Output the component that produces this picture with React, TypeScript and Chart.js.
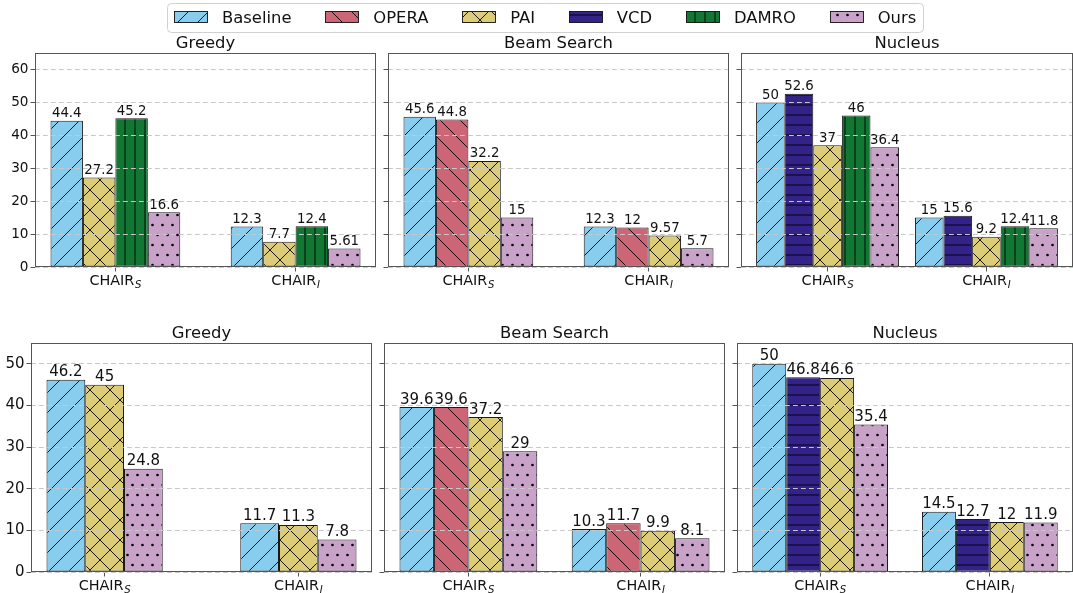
import React, { useEffect, useRef } from "react";
import { Chart, registerables } from "chart.js";

Chart.register(...registerables);

// ---------------- data ----------------
const methods = ["Baseline", "OPERA", "PAI", "VCD", "DAMRO", "Ours"];
const methodColors = ["#88CCEE", "#CC6677", "#DDCC77", "#332288", "#117733", "#C8A2C8"];
const methodHatches = ["/", "\\", "x", "-", "|", "."];

const categoryBase = ["CHAIR", "CHAIR"];
const categorySub = ["S", "I"];
const panelTitles = ["Greedy", "Beam Search", "Nucleus"];

const row1YTicks = [0, 10, 20, 30, 40, 50, 60];
const row1YMax = 65;
const row2YTicks = [0, 10, 20, 30, 40, 50];
const row2YMax = 55;

const r1GreedyMethods = ["Baseline", "PAI", "DAMRO", "Ours"];
const r1GreedyValues = [[44.4, 12.3], [27.2, 7.7], [45.2, 12.4], [16.6, 5.61]];
const r1BeamMethods = ["Baseline", "OPERA", "PAI", "Ours"];
const r1BeamValues = [[45.6, 12.3], [44.8, 12], [32.2, 9.57], [15, 5.7]];
const r1NucleusMethods = ["Baseline", "VCD", "PAI", "DAMRO", "Ours"];
const r1NucleusValues = [[50, 15], [52.6, 15.6], [37, 9.2], [46, 12.4], [36.4, 11.8]];

const r2GreedyMethods = ["Baseline", "PAI", "Ours"];
const r2GreedyValues = [[46.2, 11.7], [45, 11.3], [24.8, 7.8]];
const r2BeamMethods = ["Baseline", "OPERA", "PAI", "Ours"];
const r2BeamValues = [[39.6, 10.3], [39.6, 11.7], [37.2, 9.9], [29, 8.1]];
const r2NucleusMethods = ["Baseline", "VCD", "PAI", "Ours"];
const r2NucleusValues = [[50, 14.5], [46.8, 12.7], [46.6, 12], [35.4, 11.9]];

// ---------------- layout / style ----------------
const W = 1073;
const H = 593;
const FONT = '"DejaVu Sans", "Liberation Sans", sans-serif';

const rows = [
  { top: 53, bottom: 267, lefts: [35, 388, 741], width: 341, barW: 0.18, tickFont: 13.6, valueFont: 13.3, yTicks: row1YTicks, yMax: row1YMax },
  { top: 343, bottom: 572, lefts: [31, 384, 737], width: 341, barW: 0.2, tickFont: 15, valueFont: 15, yTicks: row2YTicks, yMax: row2YMax },
];

const panels = [
  { row: 0, col: 0, names: r1GreedyMethods, values: r1GreedyValues },
  { row: 0, col: 1, names: r1BeamMethods, values: r1BeamValues },
  { row: 0, col: 2, names: r1NucleusMethods, values: r1NucleusValues },
  { row: 1, col: 0, names: r2GreedyMethods, values: r2GreedyValues },
  { row: 1, col: 1, names: r2BeamMethods, values: r2BeamValues },
  { row: 1, col: 2, names: r2NucleusMethods, values: r2NucleusValues },
];

const HS = 10; // hatch unit (px)

function makePattern(color: string, hatch: string): CanvasPattern | string {
  const c = document.createElement("canvas");
  let w = HS, h = HS;
  if (hatch === "/" || hatch === "\\" || hatch === "x") { w = 2 * HS; h = 2 * HS; }
  if (hatch === ".") { w = HS; h = 2 * HS; }
  c.width = w; c.height = h;
  const g = c.getContext("2d")!;
  g.fillStyle = color;
  g.fillRect(0, 0, w, h);
  g.strokeStyle = "#000";
  g.fillStyle = "#000";
  g.lineWidth = 0.9;
  const line = (x1: number, y1: number, x2: number, y2: number) => {
    g.beginPath(); g.moveTo(x1, y1); g.lineTo(x2, y2); g.stroke();
  };
  if (hatch === "/" || hatch === "x") {
    line(0, h, w, 0);
    line(-5, 5, 5, -5);
    line(w - 5, h + 5, w + 5, h - 5);
  }
  if (hatch === "\\" || hatch === "x") {
    line(0, 0, w, h);
    line(w - 5, -5, w + 5, 5);
    line(-5, h - 5, 5, h + 5);
  }
  if (hatch === "-") line(0, HS / 2, HS, HS / 2);
  if (hatch === "|") line(HS / 2, 0, HS / 2, HS);
  if (hatch === ".") {
    g.beginPath(); g.arc(HS / 4, HS / 2, 1.35, 0, Math.PI * 2); g.fill();
    g.beginPath(); g.arc(HS / 4 + HS / 2, HS / 2 + HS, 1.35, 0, Math.PI * 2); g.fill();
  }
  const p = g.createPattern(c, "repeat");
  return p || color;
}

function drawLegend(ctx: CanvasRenderingContext2D, patterns: (CanvasPattern | string)[]) {
  ctx.save();
  const bx = 167.5, by = 3.5, bw = 756, bh = 29, r = 4;
  ctx.beginPath();
  ctx.moveTo(bx + r, by);
  ctx.lineTo(bx + bw - r, by);
  ctx.arcTo(bx + bw, by, bx + bw, by + r, r);
  ctx.lineTo(bx + bw, by + bh - r);
  ctx.arcTo(bx + bw, by + bh, bx + bw - r, by + bh, r);
  ctx.lineTo(bx + r, by + bh);
  ctx.arcTo(bx, by + bh, bx, by + bh - r, r);
  ctx.lineTo(bx, by + r);
  ctx.arcTo(bx, by, bx + r, by, r);
  ctx.closePath();
  ctx.fillStyle = "rgba(255,255,255,0.8)";
  ctx.fill();
  ctx.strokeStyle = "#d0d0d0";
  ctx.lineWidth = 1;
  ctx.stroke();

  ctx.font = `16.4px ${FONT}`;
  ctx.textAlign = "left";
  ctx.textBaseline = "alphabetic";
  let x = 174;
  methods.forEach((m, i) => {
    const sx = Math.round(x) + 0.5;
    ctx.fillStyle = patterns[i] as any;
    ctx.fillRect(sx, 11.5, 33, 11);
    ctx.strokeStyle = "#111";
    ctx.lineWidth = 0.9;
    ctx.strokeRect(sx, 11.5, 33, 11);
    ctx.fillStyle = "#111";
    ctx.fillText(m, x + 33 + 15, 23.3);
    x += 33 + 15 + ctx.measureText(m).width + 33.8;
  });
  ctx.restore();
}

function Panel({ idx, patterns }: { idx: number; patterns: (CanvasPattern | string)[] }) {
  const ref = useRef<HTMLCanvasElement>(null);
  useEffect(() => {
    const p = panels[idx];
    const rg = rows[p.row];
    const left = rg.lefts[p.col];
    const right = left + rg.width;
    const yAxisW = Math.min(left, 40);
    const n = p.names.length;
    const half = (n * rg.barW) / 2;
    const span = 1 + 2 * half;
    const xmin = -half - 0.05 * span;
    const xmax = 1 + half + 0.05 * span;

    const datasets = p.names.map((name, k) => {
      const mi = methods.indexOf(name);
      return {
        label: name,
        data: p.values[k].map((v, i) => ({ x: i, y: v })),
        backgroundColor: patterns[mi],
        borderColor: "#1a1a1a",
        borderWidth: 1,
        borderSkipped: false,
        categoryPercentage: n * rg.barW,
        barPercentage: 1,
      };
    });

    const deco = {
      id: "deco",
      afterDraw(chart: any) {
        const ctx: CanvasRenderingContext2D = chart.ctx;
        const a = chart.chartArea;
        ctx.save();
        // value labels
        ctx.font = `${rg.valueFont}px ${FONT}`;
        ctx.fillStyle = "#111";
        ctx.textAlign = "center";
        ctx.textBaseline = "alphabetic";
        chart.data.datasets.forEach((ds: any, di: number) => {
          const meta = chart.getDatasetMeta(di);
          meta.data.forEach((el: any, i: number) => {
            ctx.fillText(String(ds.data[i].y), el.x, el.y - 3.5);
          });
        });
        // spines
        ctx.strokeStyle = "#555";
        ctx.lineWidth = 1;
        ctx.strokeRect(a.left + 0.5, a.top + 0.5, a.right - a.left - 1, a.bottom - a.top - 1);
        // title
        ctx.font = `16.4px ${FONT}`;
        ctx.fillStyle = "#111";
        ctx.textAlign = "center";
        ctx.fillText(panelTitles[p.col], (a.left + a.right) / 2, a.top - 5.5);
        // x labels with subscripts
        const xs = chart.scales.x;
        categoryBase.forEach((base, i) => {
          const cx = xs.getPixelForValue(i);
          ctx.font = `14.4px ${FONT}`;
          const wb = ctx.measureText(base).width;
          ctx.font = `italic 10.1px ${FONT}`;
          const ws = ctx.measureText(categorySub[i]).width;
          const total = wb + 0.6 + ws;
          const sx = cx - total / 2;
          const by = a.bottom + 18.3;
          ctx.textAlign = "left";
          ctx.font = `14.4px ${FONT}`;
          ctx.fillText(base, sx, by);
          ctx.font = `italic 10.1px ${FONT}`;
          ctx.fillText(categorySub[i], sx + wb + 0.6, by + 2.5);
        });
        if (idx === 0) drawLegend(ctx, patterns);
        ctx.restore();
      },
    };

    const chart = new Chart(ref.current!, {
      type: "bar",
      data: { datasets: datasets as any },
      options: {
        animation: false,
        responsive: false,
        events: [],
        layout: { padding: { left: left - yAxisW, top: rg.top, right: W - right, bottom: H - rg.bottom } },
        plugins: { legend: { display: false }, tooltip: { enabled: false }, title: { display: false } },
        scales: {
          x: {
            type: "linear",
            min: xmin,
            max: xmax,
            offset: false,
            afterFit: (s: any) => { s.height = 0; },
            afterBuildTicks: (s: any) => { s.ticks = categoryBase.map((_, i) => ({ value: i })); },
            ticks: { display: false },
            grid: { display: true, offset: false, drawOnChartArea: false, drawTicks: true, tickLength: 4.5, tickColor: "#555", tickWidth: 1 },
            border: { display: false },
          },
          y: {
            type: "linear",
            min: 0,
            max: rg.yMax,
            afterFit: (s: any) => { s.width = yAxisW; },
            afterBuildTicks: (s: any) => { s.ticks = rg.yTicks.map((v) => ({ value: v })); },
            ticks: { display: p.col === 0, font: { family: FONT, size: rg.tickFont }, color: "#111", padding: 2 },
            grid: { display: true, z: 1, color: "#c8c8c8", lineWidth: 1, drawOnChartArea: true, drawTicks: true, tickLength: 4.5, tickColor: "#555", tickWidth: 1 },
            border: { display: false, dash: [4.8, 3.2] },
          },
        },
      } as any,
      plugins: [deco],
    });
    return () => chart.destroy();
  }, [idx, patterns]);
  return (
    <canvas
      ref={ref}
      width={W}
      height={H}
      style={{ position: "absolute", left: 0, top: 0, width: W, height: H, display: "block" }}
    />
  );
}

export default function App() {
  const patternsRef = useRef<(CanvasPattern | string)[] | null>(null);
  if (!patternsRef.current && typeof document !== "undefined") {
    patternsRef.current = methods.map((_, i) => makePattern(methodColors[i], methodHatches[i]));
  }
  const patterns = patternsRef.current!;
  return (
    <div style={{ position: "absolute", left: 0, top: 0, width: W, height: H, background: "#fff", overflow: "hidden" }}>
      {panels.map((_, i) => (
        <Panel key={i} idx={i} patterns={patterns} />
      ))}
    </div>
  );
}
